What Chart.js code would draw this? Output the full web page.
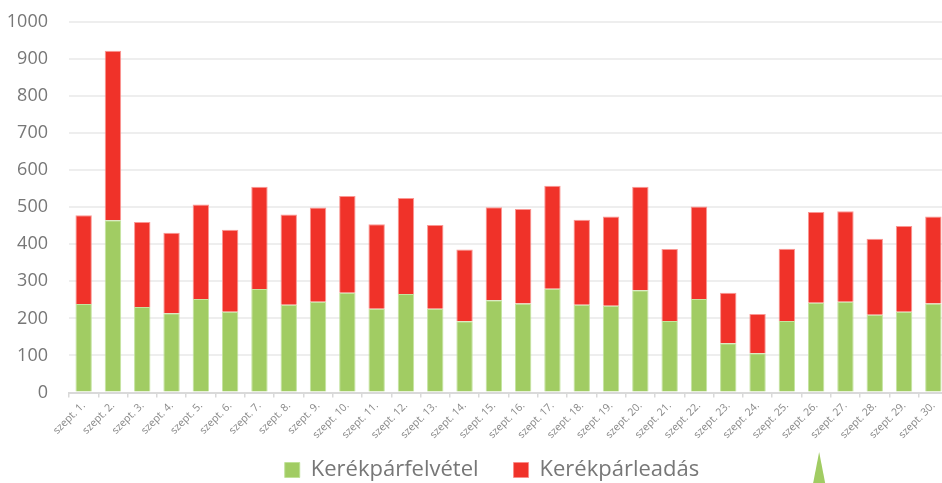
<!DOCTYPE html>
<html>
<head>
<meta charset="utf-8">
<script src="https://cdn.jsdelivr.net/npm/chart.js@4/dist/chart.umd.min.js"></script>
<style>
html,body{margin:0;padding:0;background:#fff;overflow:hidden;}
#wrap{width:984px;height:483px;}
</style>
</head>
<body>
<div id="wrap"><canvas id="c" width="984" height="483"></canvas></div>
<script>
const categories = ["szept. 1.","szept. 2.","szept. 3.","szept. 4.","szept. 5.","szept. 6.","szept. 7.","szept. 8.","szept. 9.","szept. 10.","szept. 11.","szept. 12.","szept. 13.","szept. 14.","szept. 15.","szept. 16.","szept. 17.","szept. 18.","szept. 19.","szept. 20.","szept. 21.","szept. 22.","szept. 23.","szept. 24.","szept. 25.","szept. 26.","szept. 27.","szept. 28.","szept. 29.","szept. 30."];
const felvetel = [239,465,231,214,252,218,279,237,245,269,226,266,226,192,249,240,280,237,234,276,193,252,133,106,193,242,245,210,218,240];
const totals   = [478,922,460,431,507,439,555,480,499,530,454,525,452,386,500,495,558,466,475,555,387,502,269,212,388,487,489,415,449,475];
const leadas = totals.map((t,i)=>t-felvetel[i]);
const seriesNames = ["Kerékpárfelvétel","Kerékpárleadás"];
const yTicks = {min:0,max:1000,step:100};
const GREEN = '#a1cc63', RED = '#f03229';

const caretPlugin = {
  id:'caret',
  afterDraw(chart){
    const ctx = chart.ctx;
    const xs = chart.scales.x;
    const cx = xs.getPixelForValue(25) + 3;
    const top = chart.height - 31;
    ctx.save();
    ctx.fillStyle = GREEN;
    ctx.beginPath();
    ctx.moveTo(cx, top);
    ctx.lineTo(cx + 6, chart.height);
    ctx.lineTo(cx - 6, chart.height);
    ctx.closePath();
    ctx.fill();
    ctx.restore();
  }
};
const noClip = function(){ return undefined; };

new Chart(document.getElementById('c'), {
  type:'bar',
  data:{
    labels:categories,
    datasets:[
      {label:seriesNames[0],data:felvetel,backgroundColor:GREEN,borderColor:'rgba(190,225,150,0.9)',borderWidth:1,barPercentage:0.7,categoryPercentage:0.8},
      {label:seriesNames[1],data:leadas,backgroundColor:RED,borderColor:'rgba(250,140,135,0.9)',borderWidth:1,barPercentage:0.7,categoryPercentage:0.8}
    ]
  },
  plugins:[caretPlugin],
  options:{
    responsive:false,
    animation:false,
    layout:{padding:{top:-3,right:36,left:36,bottom:0}},
    plugins:{
      tooltip:{enabled:false},
      legend:{
        position:'bottom',
        maxHeight:59,
        labels:{font:{family:'Open Sans',size:22},color:'#777',boxWidth:15,boxHeight:15,padding:35}
      }
    },
    scales:{
      x:{
        stacked:true,
        afterFit(s){ s.height = 31.5; s._computeLabelArea = noClip; },
        grid:{display:true,drawOnChartArea:false,color:'#d9d9d9',tickLength:5,lineWidth:1.5},
        border:{display:true,color:'#d9d9d9',width:2},
        ticks:{font:{family:'Open Sans',size:10.5},color:'#888',maxRotation:45,minRotation:45,autoSkip:false,padding:2}
      },
      y:{
        stacked:true,
        min:yTicks.min,max:yTicks.max,
        afterFit(s){ s.width = 33; s._computeLabelArea = noClip; },
        grid:{color:'#eeeeee',lineWidth:2,drawTicks:false},
        border:{display:false},
        ticks:{stepSize:yTicks.step,font:{family:'Open Sans',size:18,lineHeight:0.1},color:'#777',padding:21,
          callback:(v)=>String(v)}
      }
    }
  }
});
</script>
</body>
</html>
